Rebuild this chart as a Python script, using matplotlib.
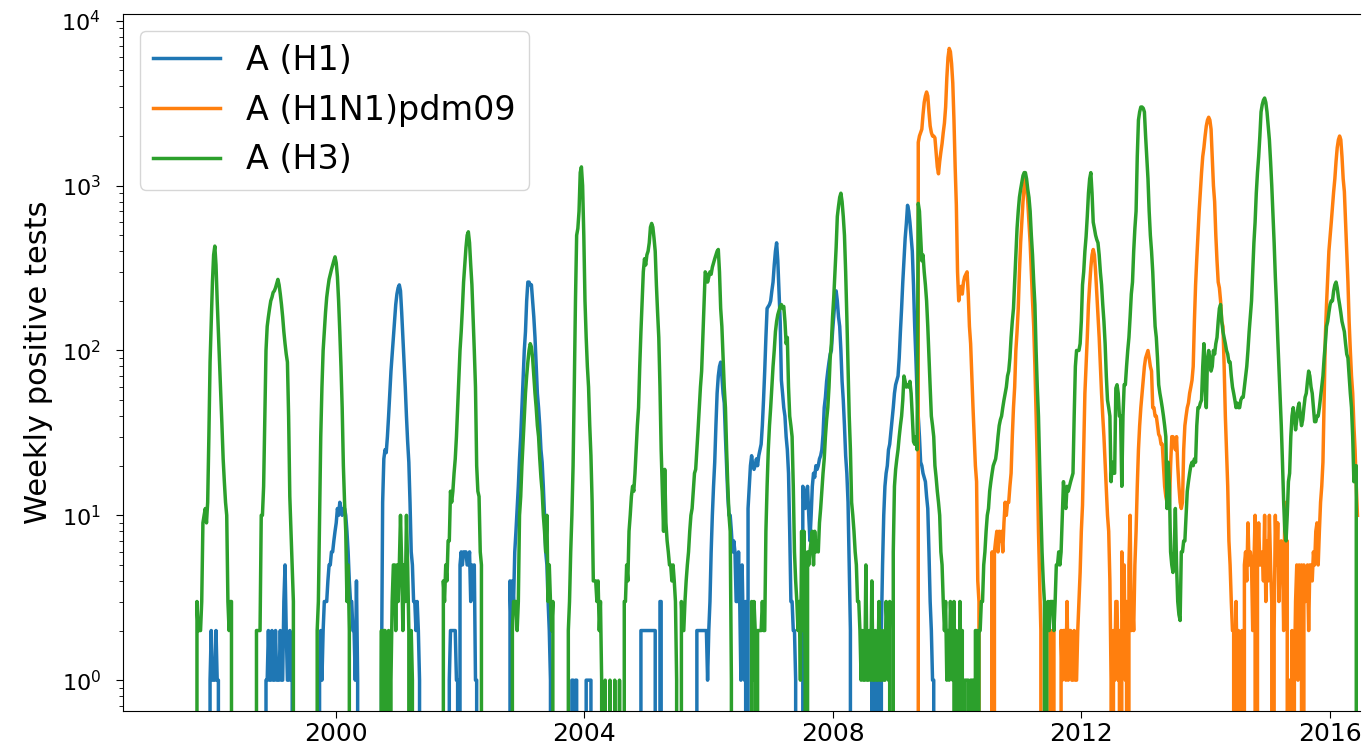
import numpy as np
import matplotlib
matplotlib.use('Agg')
import matplotlib.pyplot as plt
import matplotlib.dates as mdates

# weekly positive tests; week 0 = 1997-09-28
# each series is a list of seasons: first week index + weekly counts (0 elsewhere)
first_week = np.datetime64('1997-09-28')
n_weeks = 977

h1_starts = [12, 59, 104, 156, 213, 264, 316, 374, 421, 464, 510, 568]
h1_values = [
    [1, 2, 1, 1, 1, 2, 1, 1, 0],
    [1, 1, 2, 1, 1, 2, 1, 1, 2, 1, 1, 1, 2, 1, 1, 3, 5, 2, 1, 1, 2, 1, 1, 0],
    [1, 2, 1, 2, 3, 3, 3, 4, 5, 5, 6, 6, 7, 8, 9, 11, 10, 12, 11, 10, 11, 11, 10, 8, 6, 4, 3, 3,
     2, 2, 1, 4, 1, 0],
    [1, 12, 22, 25, 24, 30, 40, 55, 75, 95, 120, 150, 190, 220, 240, 250, 230, 170, 120, 85, 60,
     40, 28, 21, 12, 6, 5, 3, 3, 2, 3, 2, 1, 0],
    [1, 2, 2, 2, 2, 2, 1, 1, 0, 5, 6, 5, 6, 6, 6, 5, 5, 6, 3, 5, 4, 5, 1, 1, 0],
    [4, 2, 4, 3, 6, 8, 11, 15, 22, 30, 45, 70, 100, 130, 200, 260, 260, 250, 250, 200, 160, 120,
     80, 55, 45, 35, 25, 21, 15, 10, 6, 5, 3, 2, 1, 0],
    [1, 1, 0, 1, 1, 0, 0, 0, 0, 0, 0, 0, 1, 1, 1, 1, 1, 0],
    [2, 2, 2, 2, 2, 2, 2, 2, 2, 2, 2, 2, 2, 0, 0, 0, 3, 3, 0],
    [2, 2, 2, 2, 2, 2, 2, 2, 2, 1, 2, 3, 6, 10, 15, 21, 35, 55, 70, 80, 85, 70, 55, 48, 30, 20,
     13, 10, 10, 8, 6, 7, 6, 3, 3, 6, 3, 1, 5, 2, 1, 3],
    [11, 15, 20, 23, 20, 19, 20, 22, 20, 23, 25, 27, 35, 50, 75, 120, 180, 185, 190, 200, 230,
     260, 330, 400, 450, 350, 230, 150, 66, 55, 45, 40, 30, 25, 18, 8, 3, 3, 2, 2, 1, 0],
    [15, 12, 11, 14, 15, 10, 7, 10, 15, 18, 17, 20, 19, 20, 22, 23, 25, 31, 45, 52, 65, 75, 85,
     95, 100, 130, 160, 200, 230, 200, 160, 140, 100, 65, 50, 35, 23, 18, 12, 5, 2, 0],
    [1, 0, 1, 1, 0, 1, 1, 0, 2, 5, 10, 15, 18, 20, 25, 27, 32, 38, 45, 55, 62, 66, 70, 90, 130,
     180, 260, 350, 480, 590, 760, 700, 600, 490, 400, 250, 140, 90, 55, 40, 30, 21, 20, 18, 17,
     16, 13, 11, 6, 3, 2, 1, 1, 0],
]

pdm_starts = [607, 669, 716]
pdm_values = [
    [1830, 2000, 2100, 2200, 2700, 3200, 3500, 3700, 3500, 2800, 2300, 2100, 2000, 2000, 1950,
     1600, 1300, 1180, 1400, 1600, 1800, 2100, 2400, 3000, 4500, 6000, 6800, 6500, 5500, 4200,
     2500, 1300, 760, 300, 200, 230, 245, 220, 260, 280, 290, 300, 220, 140, 110, 70, 45, 30, 20,
     16, 4, 3, 0],
    [6, 0, 6, 7, 8, 6, 8, 7, 8, 6, 9, 12, 10, 12, 12, 15, 18, 30, 45, 60, 100, 130, 180, 300, 450,
     600, 800, 1000, 1100, 1000, 800, 600, 450, 300, 200, 140, 80, 40, 21, 8, 4, 2, 0],
    [0, 0, 2, 0, 2, 2, 0, 0, 0, 0,
     0, 2, 1, 2, 2, 1, 3, 1, 2, 2,
     1, 1, 2, 1, 1, 2, 3, 4.5, 8, 11.5,
     25, 55, 80, 120, 190, 250, 320, 380, 410, 380,
     300, 220, 160, 120, 80, 55, 40, 30, 21, 15,
     10, 8, 4, 1, 0, 2, 1, 3, 3, 1,
     2, 0, 6, 2, 5, 1, 3, 0, 5, 10,
     2, 3, 2, 5, 8, 15, 25, 35, 45, 55,
     66, 80, 90, 95, 100, 90, 80, 75, 45, 45,
     40, 40, 35, 31, 30, 27, 27, 20, 15, 13,
     12, 11.5, 11.5, 20, 30, 30, 28, 25, 30, 20,
     15, 12, 11, 12, 25, 35, 40, 45, 48, 55,
     60, 66, 80, 150, 250, 360, 500, 700, 920, 1200,
     1500, 1700, 2000, 2300, 2500, 2600, 2500, 2200, 1500, 1000,
     800, 500, 350, 260, 240, 200, 150, 140, 80, 40,
     24, 15, 7, 5, 3, 2, 2, 0, 3, 1,
     2, 0, 1, 2, 0, 5, 6, 4, 9, 5,
     6, 5, 2, 5, 10, 0, 5, 9, 5, 5,
     6, 4, 10, 3, 7, 4, 10, 5, 3, 0,
     2, 10, 5, 9, 3, 5, 7, 6, 2, 12,
     5, 7, 0, 1, 0, 2, 0, 1, 3, 5,
     1, 5, 2, 5, 0, 5, 3, 4, 5, 2,
     5, 5, 4, 6, 5, 8, 9, 5, 8, 12,
     15, 21, 50, 120, 190, 280, 400, 490, 600, 750,
     920, 1100, 1400, 1700, 1900, 2000, 1900, 1500, 1100, 920,
     600, 400, 260, 150, 100, 70, 55, 35, 25, 15,
     10, 4, 2],
]

h3_starts = [1, 51, 102, 156, 208, 266, 313, 344, 360, 408, 467, 514, 586, 634, 660, 715]
h3_values = [
    [3, 2, 2, 2, 3, 9, 10, 11, 9, 12, 30, 85, 150, 260, 380, 430, 330, 200, 130, 85, 55, 35, 22,
     16, 12, 10, 3, 2, 3, 3, 0, 0],
    [2, 2, 2, 2, 10, 10, 15, 40, 100, 140, 160, 180, 200, 210, 225, 230, 240, 255, 270, 250, 220,
     190, 160, 130, 110, 95, 85, 40, 13, 8, 5, 3, 0],
    [2, 3, 10, 30, 60, 100, 130, 170, 210, 240, 270, 290, 310, 330, 350, 370, 340, 280, 200, 130,
     80, 45, 20, 12, 8, 3, 5, 2, 0],
    [2, 0, 2, 2, 0, 1, 2, 0, 1, 3, 5, 5, 2, 5, 3, 5, 10, 5, 2, 5, 3, 10, 5, 2, 0, 2, 1, 0],
    [4, 3, 5, 4, 7, 7, 14, 12, 14, 18, 22, 30, 45, 70, 100, 130, 180, 260, 330, 420, 500, 525,
     450, 330, 250, 160, 100, 60, 20, 14, 13, 6, 5, 0],
    [2, 3, 3, 3, 2, 3, 10, 13, 20, 28, 40, 55, 70, 85, 100, 110, 105, 90, 70, 55, 45, 35, 30, 22,
     17, 14, 10, 8, 6, 10, 3, 5, 3, 2, 3, 0],
    [2, 3, 6, 10, 20, 60, 200, 500, 550, 700, 1200, 1300, 1000, 500, 200, 120, 80, 60, 35, 23,
     12, 4, 4, 4, 3, 4, 2, 3, 1, 0],
    [1, 0, 0, 0, 1, 0, 0, 0, 1, 0, 0, 0, 1, 0, 0, 0],
    [3, 3, 5, 4, 8, 10, 13, 15, 14, 18, 25, 35, 45, 80, 130, 200, 300, 360, 330, 380, 400, 450,
     560, 590, 560, 480, 400, 250, 170, 120, 60, 25, 14, 8, 19, 9, 7, 6, 5, 5, 4, 5, 4, 3, 1, 0],
    [3, 2, 2, 3, 4, 5, 6, 8, 10, 11, 14, 18, 19, 25, 33, 45, 60, 75, 120, 200, 300, 290, 260, 280,
     300, 290, 320, 340, 360, 380, 400, 410, 300, 180, 140, 90, 60, 45, 25, 15, 10, 8, 1, 0],
    [3, 1, 3, 2, 0, 2, 2, 2, 2, 3, 2, 2, 8, 15, 25, 35, 45, 60, 80, 100, 130, 150, 165, 175, 185,
     190, 180, 185, 150, 110, 120, 60, 40, 35, 30, 15, 6, 4, 3, 2, 3, 1, 8, 2, 8, 1, 0],
    [6, 5, 6, 7, 8, 5, 8, 6, 7, 6, 9, 11, 14, 18, 22, 30, 38, 45, 60, 90, 110, 160, 210, 300, 420,
     650, 750, 850, 900, 800, 650, 500, 300, 160, 80, 40, 25, 12, 10, 8, 6, 5, 3, 3, 2, 1, 2, 1,
     1, 5, 1, 1, 2, 1, 4, 1, 1, 2, 1, 1, 3, 1, 1, 2, 1, 1, 3, 2, 1, 3],
    [6, 15, 19, 22, 25, 30, 35, 40, 50, 70, 65, 60, 62, 60, 65, 55, 40, 28, 27, 30, 25, 780, 700,
     500, 350, 380, 300, 250, 200, 140, 90, 60, 40, 35, 30, 20, 17, 14, 12, 10, 6, 5, 3, 2, 3, 1,
     2, 1],
    [3, 2, 1, 3, 0, 2, 1, 0, 3, 1, 2, 0, 1, 1, 1, 1, 0, 1, 1, 1, 0, 2, 2, 0, 2, 2],
    [3, 3, 5, 6, 8, 10, 11, 14, 16, 18, 20, 21, 22, 25, 30, 35, 38, 40, 45, 50, 55, 60, 70, 75,
     90, 120, 150, 180, 260, 380, 550, 700, 850, 950, 1050, 1150, 1200, 1200, 1100, 950, 850, 700,
     500, 380, 260, 190, 100, 60, 40, 20, 11, 6, 4, 3, 0],
    [2, 3, 2, 3, 3, 3, 2, 3, 5, 5,
     6, 5, 6, 10, 16, 12, 11, 15, 14, 15,
     16, 17, 18, 40, 80, 100, 100, 100, 110, 150,
     250, 300, 400, 490, 650, 900, 1100, 1200, 900, 600,
     550, 500, 470, 450, 380, 300, 250, 190, 150, 110,
     70, 50, 45, 40, 16, 21, 18, 18, 59, 62,
     55, 40, 40, 15, 40, 62, 62, 80, 100, 120,
     160, 220, 260, 400, 550, 700, 1500, 2500, 2800, 3000,
     3000, 2950, 2800, 2000, 1500, 1100, 700, 500, 400, 300,
     200, 140, 120, 90, 62, 55, 50, 45, 40, 35,
     30, 11, 21, 15, 6, 5, 4.5, 6, 11, 5,
     3, 2.5, 2.3, 6, 6, 7, 7, 10, 14, 16,
     18, 20, 21, 20, 22, 21, 35, 45, 45, 48,
     50, 80, 110, 60, 45, 90, 100, 90, 75, 80,
     100, 95, 110, 120, 150, 180, 190, 150, 130, 120,
     110, 100, 95, 85, 85, 70, 60, 55, 50, 45,
     48, 45, 45, 50, 52, 52, 60, 70, 80, 100,
     130, 160, 200, 300, 450, 600, 900, 1200, 1500, 2000,
     2800, 3100, 3300, 3400, 3200, 2800, 2300, 1900, 1400, 1000,
     670, 450, 280, 190, 120, 80, 55, 35, 21, 12,
     8, 7, 10, 16, 18, 30, 40, 45, 40, 33,
     38, 45, 48, 40, 35, 38, 45, 52, 55, 65,
     75, 70, 60, 55, 45, 37, 37, 40, 40, 45,
     52, 60, 70, 90, 110, 140, 150, 170, 190, 200,
     200, 230, 250, 260, 240, 210, 190, 170, 150, 140,
     130, 110, 95, 90, 70, 55, 45, 30, 16, 20,
     20],
]


def weekly(starts, seasons):
    counts = np.zeros(n_weeks)
    for k, vals in zip(starts, seasons):
        vals = vals[:n_weeks - k]
        counts[k:k + len(vals)] = vals
    return counts


weeks = first_week + np.arange(n_weeks) * np.timedelta64(7, 'D')
h1 = weekly(h1_starts, h1_values)
pdm = weekly(pdm_starts, pdm_values)
h3 = weekly(h3_starts, h3_values)

fig = plt.figure(figsize=(13.66, 7.52), dpi=100)
ax = fig.add_axes([123 / 1366, 41 / 752, 1236.5 / 1366, 697 / 752])

ax.plot(weeks, h1, color='#1f77b4', lw=2.5, label='A (H1)')
ax.plot(weeks, pdm, color='#ff7f0e', lw=2.5, label='A (H1N1)pdm09')
ax.plot(weeks, h3, color='#2ca02c', lw=2.5, label='A (H3)')

ax.set_yscale('log')
ax.set_ylim(0.65, 11000)
ax.set_xlim(np.datetime64('1996-07-27'), np.datetime64('2016-06-24'))
ax.xaxis.set_major_locator(mdates.YearLocator(4))
ax.xaxis.set_major_formatter(mdates.DateFormatter('%Y'))
ax.tick_params(axis='x', labelsize=18, length=5, pad=3)
ax.tick_params(axis='y', which='major', labelsize=16, length=5, pad=11)
ax.tick_params(axis='y', which='minor', length=3)
ax.set_ylabel('Weekly positive tests', fontsize=22, labelpad=6)
ax.spines['right'].set_visible(False)
ax.legend(loc='upper left', fontsize=24)

fig.savefig('out.png', dpi=100)
